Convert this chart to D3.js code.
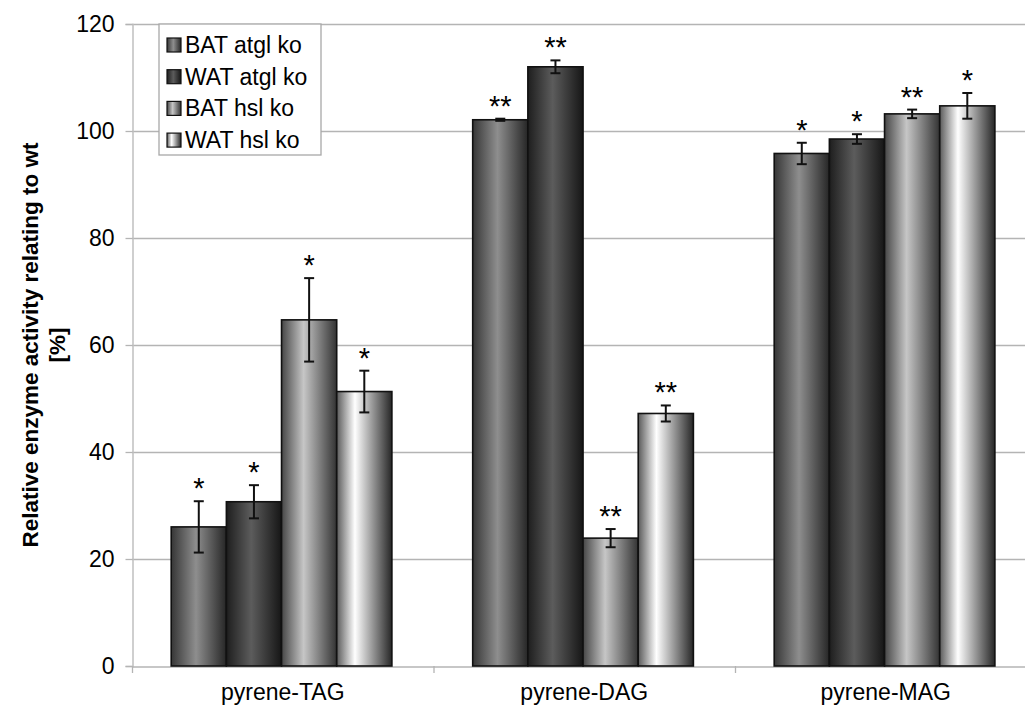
<!DOCTYPE html>
<html>
<head>
<meta charset="utf-8">
<script src="https://cdn.jsdelivr.net/npm/d3@7"></script>
<style>
  body { margin: 0; background: #fff; }
  text { font-family: Arial, "Liberation Sans", sans-serif; fill: #000; }
  .tick-label { font-size: 23px; }
  .axis-title { font-size: 22.5px; font-weight: bold; }
  .legend-label { font-size: 23px; }
  .star { font-size: 29px; }
</style>
</head>
<body>
<svg id="chart"></svg>
<script>
// Data
const categories = ['pyrene-TAG', 'pyrene-DAG', 'pyrene-MAG'];
const series = ['BAT atgl ko', 'WAT atgl ko', 'BAT hsl ko', 'WAT hsl ko'];
const batAtgl = [26.0, 102.1, 95.8];
const watAtgl = [30.7, 112.0, 98.5];
const batHsl = [64.7, 23.9, 103.2];
const watHsl = [51.3, 47.2, 104.7];
const batAtglErr = [4.8, 0.2, 2.0];
const watAtglErr = [3.1, 1.2, 0.9];
const batHslErr = [7.8, 1.7, 0.8];
const watHslErr = [3.9, 1.5, 2.4];
const batAtglSig = ['*', '**', '*'];
const watAtglSig = ['*', '**', '*'];
const batHslSig = ['*', '**', '**'];
const watHslSig = ['*', '**', '*'];
const yTicks = [0, 20, 40, 60, 80, 100, 120];

const values = [batAtgl, watAtgl, batHsl, watHsl];
const errors = [batAtglErr, watAtglErr, batHslErr, watHslErr];
const sigs = [batAtglSig, watAtglSig, batHslSig, watHslSig];

// Gradient styles per series: [left, middle, right, middle offset]
const gradients = [
  ['#363636', '#8e8e8e', '#262626', '45%'],
  ['#1e1e1e', '#5c5c5c', '#161616', '45%'],
  ['#464646', '#c6c6c6', '#333333', '40%'],
  ['#5a5a5a', '#ffffff', '#262626', '33%'],
];

const W = 1025, H = 710;
const margin = { left: 132, top: 24 };
const plotW = 904.5, plotH = 642;

const svg = d3.select('#chart').attr('width', W).attr('height', H);

const defs = svg.append('defs');
gradients.forEach((g, i) => {
  const lg = defs.append('linearGradient')
    .attr('id', 'grad' + i)
    .attr('x1', '0%').attr('x2', '100%').attr('y1', '0%').attr('y2', '0%');
  lg.append('stop').attr('offset', '0%').attr('stop-color', g[0]);
  lg.append('stop').attr('offset', g[3]).attr('stop-color', g[1]);
  lg.append('stop').attr('offset', '100%').attr('stop-color', g[2]);
});

const x = d3.scaleBand().domain(categories).range([0, plotW]);
const xSub = d3.scaleBand().domain(d3.range(series.length))
  .range([x.bandwidth() * 0.13, x.bandwidth() * 0.862]);
const y = d3.scaleLinear().domain([0, 120]).range([plotH, 0]);

const g = svg.append('g').attr('transform', `translate(${margin.left},${margin.top})`);

// Gridlines
g.append('g').selectAll('line').data(yTicks.filter(d => d > 0)).enter()
  .append('line')
  .attr('x1', 0).attr('x2', plotW)
  .attr('y1', d => y(d) + 0.5).attr('y2', d => y(d) + 0.5)
  .attr('stroke', '#b4b4b4').attr('stroke-width', 1.3);

// Y axis
const yAxis = g.append('g').attr('transform', 'translate(0.5,0)')
  .call(d3.axisLeft(y).tickValues(yTicks).tickSize(7).tickPadding(11));
yAxis.select('.domain').attr('stroke', '#c0c0c0').attr('stroke-width', 1.5);
yAxis.selectAll('.tick line').attr('stroke', '#b4b4b4').attr('stroke-width', 1.3);
yAxis.selectAll('.tick text').attr('class', 'tick-label').attr('fill', '#000')
  .style('font-family', 'Arial, "Liberation Sans", sans-serif');

// X axis
const xAxis = g.append('g').attr('transform', `translate(0,${plotH + 0.5})`)
  .call(d3.axisBottom(x).tickSize(0).tickPadding(17));
xAxis.select('.domain').attr('stroke', '#b4b4b4').attr('stroke-width', 1.5);
xAxis.selectAll('.tick text').attr('class', 'tick-label').attr('fill', '#000')
  .style('font-family', 'Arial, "Liberation Sans", sans-serif');
// boundary ticks between categories
g.append('g').selectAll('line').data(categories).enter()
  .append('line')
  .attr('x1', d => x(d) + 0.5).attr('x2', d => x(d) + 0.5)
  .attr('y1', plotH).attr('y2', plotH + 7)
  .attr('stroke', '#b4b4b4').attr('stroke-width', 1.3);

// Bars
const barData = [];
categories.forEach((c, ci) => {
  series.forEach((s, si) => {
    barData.push({ cat: c, s: si, v: values[si][ci], e: errors[si][ci], sig: sigs[si][ci] });
  });
});

g.append('g').selectAll('rect').data(barData).enter()
  .append('rect')
  .attr('x', d => x(d.cat) + xSub(d.s))
  .attr('y', d => y(d.v))
  .attr('width', xSub.bandwidth())
  .attr('height', d => plotH - y(d.v))
  .attr('fill', d => `url(#grad${d.s})`)
  .attr('stroke', '#111')
  .attr('stroke-width', 1.6);

// Error bars
const eb = g.append('g').attr('stroke', '#111').attr('stroke-width', 2);
barData.forEach(d => {
  const cx = x(d.cat) + xSub(d.s) + xSub.bandwidth() / 2;
  const top = y(d.v + d.e), bot = y(d.v - d.e);
  eb.append('line').attr('x1', cx).attr('x2', cx).attr('y1', top).attr('y2', bot);
  eb.append('line').attr('x1', cx - 5).attr('x2', cx + 5).attr('y1', top).attr('y2', top);
  eb.append('line').attr('x1', cx - 5).attr('x2', cx + 5).attr('y1', bot).attr('y2', bot);
});

// Significance stars
g.append('g').selectAll('text').data(barData).enter()
  .append('text')
  .attr('class', 'star')
  .attr('text-anchor', 'middle')
  .attr('x', d => x(d.cat) + xSub(d.s) + xSub.bandwidth() / 2)
  .attr('y', d => y(d.v + d.e) - 3)
  .text(d => d.sig);

// Y axis title
const title = svg.append('text')
  .attr('class', 'axis-title')
  .attr('text-anchor', 'middle')
  .attr('transform', `translate(38,${margin.top + plotH / 2}) rotate(-90)`);
title.append('tspan').attr('x', 0).attr('y', 0).text('Relative enzyme activity relating to wt');
title.append('tspan').attr('x', 0).attr('y', 27).text('[%]');

// Legend
const legend = svg.append('g').attr('transform', 'translate(159,24)');
legend.append('rect')
  .attr('width', 162).attr('height', 131)
  .attr('fill', '#fff').attr('stroke', '#a8a8a8').attr('stroke-width', 1.3);
series.forEach((s, i) => {
  const row = legend.append('g').attr('transform', `translate(0,${21 + i * 31.7})`);
  row.append('rect')
    .attr('x', 8).attr('y', -7).attr('width', 14).attr('height', 14)
    .attr('fill', `url(#grad${i})`).attr('stroke', '#111').attr('stroke-width', 1.2);
  row.append('text')
    .attr('class', 'legend-label')
    .attr('x', 26).attr('y', 8)
    .text(s);
});
</script>
</body>
</html>
